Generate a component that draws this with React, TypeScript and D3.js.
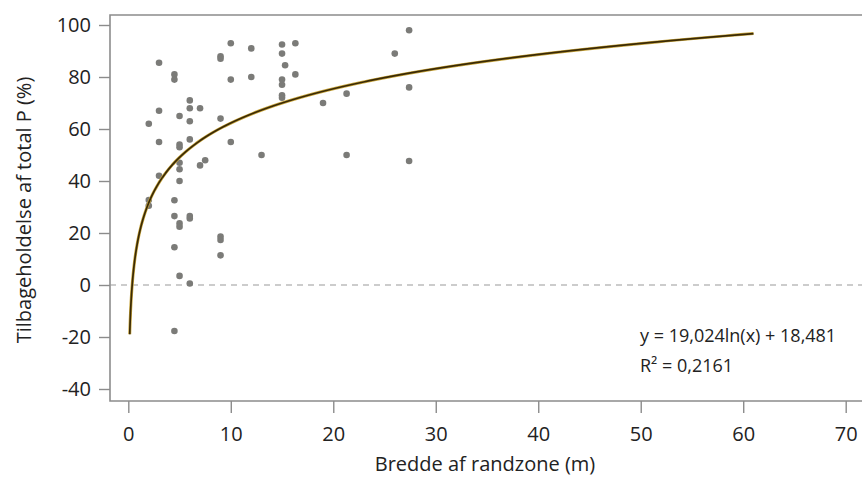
import * as d3 from "d3";
import { useEffect, useRef } from "react";

const widths = [
  3, 4.5, 4.5, 6, 6, 7, 3, 5, 6, 2, 9, 6, 3, 5, 5, 10, 13, 10, 12, 9, 9, 10, 12,
  15, 15, 16.3, 15.3, 16.3, 15, 15, 15, 15, 7.5, 7, 5, 5, 3, 5, 2, 2, 4.5, 4.5,
  6, 6, 5, 5, 9, 9, 9, 4.5, 5, 6, 4.5, 27.4, 26, 27.4, 21.3, 19, 21.3, 27.4,
];
const retention = [
  85.5, 81, 79, 71, 68, 68, 67, 65, 63, 62, 64, 56, 55, 54, 53, 55, 50, 93, 91,
  88, 87, 79, 80, 92.5, 89, 93, 84.5, 81, 79, 77, 73, 72, 48, 46, 47, 44.5,
  42, 40, 32.7, 30.5, 32.6, 26.5, 26.5, 25.6, 23.7, 22.4, 18.6, 17.3, 11.4,
  14.5, 3.5, 0.6, -17.7, 98, 89, 76, 73.6, 70, 50, 47.7,
];

const xTicks = [0, 10, 20, 30, 40, 50, 60, 70];
const yTicks = [-40, -20, 0, 20, 40, 60, 80, 100];

// logarithmic trendline
const coefA = 19.024;
const coefB = 18.481;
const fitRange = [0.14, 61];
const equationLines = ["y = 19,024ln(x) + 18,481", "R² = 0,2161"];

function App() {
  const ref = useRef<SVGSVGElement>(null);

  useEffect(() => {
    const W = 862,
      H = 477;
    const svg = d3.select(ref.current);
    svg.selectAll("*").remove();

    const font = "'Open Sans', 'Noto Sans', sans-serif";
    const axisColor = "#8c8c8c";

    const x = d3.scaleLinear().domain([0, 70]).range([128.3, 845.7]);
    const y = d3.scaleLinear().domain([-40, 100]).range([389, 25]);

    const left = 110,
      top = 15,
      bottom = 401;

    // frame: top, left, bottom
    svg
      .append("path")
      .attr("d", `M${W},${top}H${left}V${bottom}H${W}`)
      .attr("fill", "none")
      .attr("stroke", axisColor)
      .attr("stroke-width", 1.6);

    // zero line
    svg
      .append("line")
      .attr("x1", left)
      .attr("x2", W)
      .attr("y1", y(0))
      .attr("y2", y(0))
      .attr("stroke", "#9a9a9a")
      .attr("stroke-width", 1.2)
      .attr("stroke-dasharray", "6,5");

    // y axis
    const yAxis = svg
      .append("g")
      .attr("transform", `translate(${left},0)`)
      .call(
        d3
          .axisLeft(y)
          .tickValues(yTicks)
          .tickSize(11)
          .tickPadding(8)
          .tickFormat((d) => String(d))
      );
    yAxis.select(".domain").remove();
    yAxis.selectAll("line").attr("stroke", axisColor).attr("stroke-width", 1.4);
    yAxis
      .selectAll("text")
      .attr("fill", "#222")
      .style("font-family", font)
      .style("font-size", "20px");

    // x axis
    const xAxis = svg
      .append("g")
      .attr("transform", `translate(0,${bottom})`)
      .call(
        d3
          .axisBottom(x)
          .tickValues(xTicks)
          .tickSize(12)
          .tickPadding(14)
          .tickFormat((d) => String(d))
      );
    xAxis.select(".domain").remove();
    xAxis.selectAll("line").attr("stroke", axisColor).attr("stroke-width", 1.4);
    xAxis
      .selectAll("text")
      .attr("fill", "#222")
      .style("font-family", font)
      .style("font-size", "20px");

    // points
    svg
      .append("g")
      .selectAll("circle")
      .data(d3.zip(widths, retention))
      .join("circle")
      .attr("cx", (d) => x(d[0]))
      .attr("cy", (d) => y(d[1]))
      .attr("r", 3.3)
      .attr("fill", "#7b7b78");

    // trendline, sampled on a log grid so the steep start stays smooth
    const fitX = d3.range(0, 401).map((i) => {
      const t = i / 400;
      return fitRange[0] * Math.pow(fitRange[1] / fitRange[0], t);
    });
    const line = d3
      .line<number>()
      .x((d) => x(d))
      .y((d) => y(coefA * Math.log(d) + coefB));
    svg
      .append("path")
      .datum(fitX)
      .attr("d", line)
      .attr("fill", "none")
      .attr("stroke", "#c8a53c")
      .attr("stroke-width", 3);
    svg
      .append("path")
      .datum(fitX)
      .attr("d", line)
      .attr("fill", "none")
      .attr("stroke", "#3a2a06")
      .attr("stroke-width", 1.7);

    // equation
    svg
      .append("g")
      .selectAll("text")
      .data(equationLines)
      .join("text")
      .attr("x", 640)
      .attr("y", (d, i) => 342 + i * 30)
      .text((d) => d)
      .attr("fill", "#222")
      .style("font-family", font)
      .style("font-size", "18px");

    // axis titles
    svg
      .append("text")
      .attr("x", 485)
      .attr("y", 471)
      .attr("text-anchor", "middle")
      .text("Bredde af randzone (m)")
      .attr("fill", "#222")
      .style("font-family", font)
      .style("font-size", "20px");

    svg
      .append("text")
      .attr("transform", `translate(31,210) rotate(-90)`)
      .attr("text-anchor", "middle")
      .text("Tilbageholdelse af total P (%)")
      .attr("fill", "#222")
      .style("font-family", font)
      .style("font-size", "20px");

    svg.attr("width", W).attr("height", H);
  }, []);

  return (
    <svg
      ref={ref}
      width={862}
      height={477}
      style={{ position: "absolute", left: 0, top: 0, background: "#fff" }}
    />
  );
}

export default App;
